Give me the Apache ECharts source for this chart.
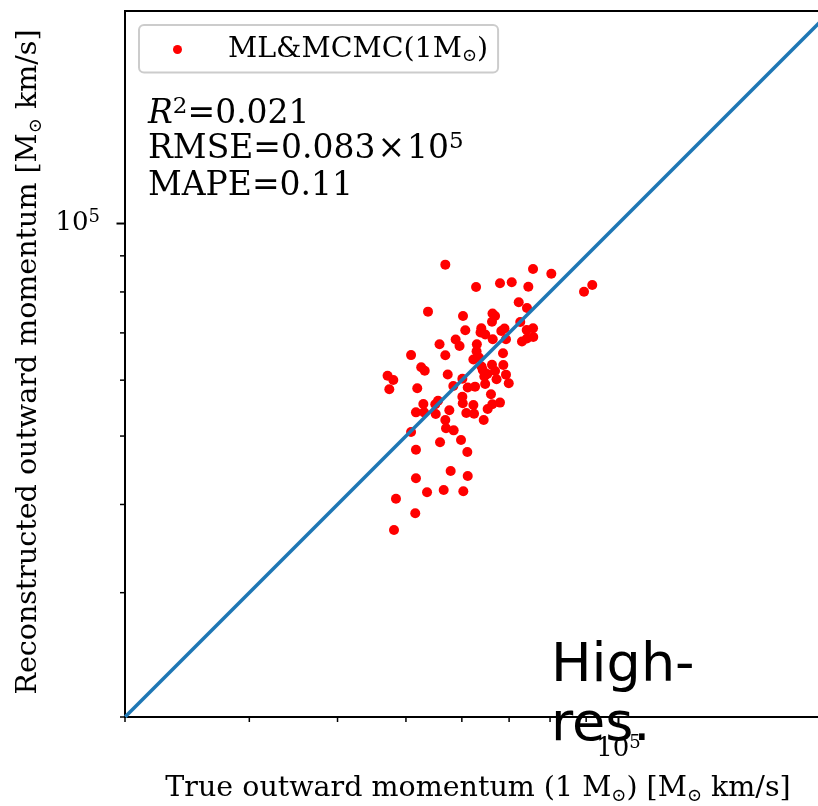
<!DOCTYPE html>
<html><head><meta charset="utf-8">
<script src="https://cdn.jsdelivr.net/npm/echarts@6/dist/echarts.min.js"></script>
<style>html,body{margin:0;padding:0;background:#fff}#c{width:818px;height:806px}</style>
</head><body><div id="c"></div>
<script>
// ---- data ----
const trueMomentum = [56850,62850,67950,70600,75680,80330,74530,91810,89370,53730,
  72230,74200,66310,66860,60230,66200,72590,60680,63930,63770,
  64760,68240,68950,66360,69290,74130,75680,75740,74200,73000,
  58800,59550,55790,63010,62950,56850,50840,62300,63450,68620,
  52550,53160,63980,66200,68690,64230,65190,66860,64560,57300,
  60100,67190,69290,69920,64740,47090,47980,47360,51880,58350,
  61160,62640,65980,60100,60180,62300,66270,67950,65270,52920,
  55520,55020,51660,53040,55100,57600,60880,62440,64430,56850,
  56980,58420,50840,55880,59840,51660,61080,57850,61160,51660,
  48400,53560,56550,60290,51540,48090];
const recoMomentum = [87450,81290,82280,82550,86220,84910,81370,81830,80070,75020,
  77340,75920,74580,73970,73970,72590,72520,70600,71060,70100,
  69650,70440,71010,68550,68550,70660,71050,69080,68740,68060,
  68500,67080,67450,67430,65930,65070,65110,64180,64590,65490,
  62570,61870,62740,63100,63040,62030,61230,61830,60720,61130,
  60280,60190,61090,59410,59260,60880,60030,58240,58430,58870,
  58590,58740,57290,56850,55640,55340,55470,55760,54620,55520,
  56110,55470,54020,54020,53730,54380,53900,53780,52690,52690,
  51280,50940,50670,49000,49370,47820,47470,44620,43900,43570,
  40760,41620,41940,41760,38870,36800];
const axisMin = 2e4;
const axisMax = 2e5;
const identityLine = [2e4, 2e5];
const majorTicks = [1e5];
const minorTicks = [2e4, 3e4, 4e4, 5e4, 6e4, 7e4, 8e4, 9e4];
const majorTickLabels = ['{b|10}{e|5}'];
const seriesName = 'ML&MCMC(1M☉)';
const r2Text = '0.021';
const rmseText = '0.083';
const mapeText = '0.11';
const xAxisTitle = '{t|True outward momentum (1 M}{s|⊙}{t|) [M}{s|⊙}{t| km/s]}';
const yAxisTitle = '{t|Reconstructed outward momentum [M}{s|⊙}{t| km/s]}';
const watermark = 'High-\nres.';

// ---- chart ----
const FONT = "'DejaVu Serif', serif";
const chart = echarts.init(document.getElementById('c'), null, {renderer: 'canvas'});
const scatterData = trueMomentum.map((x, i) => [x, recoMomentum[i]]);
const allTicks = minorTicks.concat(majorTicks);
const nMinor = minorTicks.length;

const tickRich = {
  b: {fontFamily: FONT, fontSize: 26, lineHeight: 30, fill: '#000', verticalAlign: 'middle'},
  e: {fontFamily: FONT, fontSize: 18, lineHeight: 16, fill: '#000', verticalAlign: 'top'}
};
const nameRich = {
  t: {fontFamily: FONT, fontSize: 28.5, lineHeight: 32, color: '#000', verticalAlign: 'middle'},
  s: {fontFamily: FONT, fontSize: 18, lineHeight: 20, color: '#000', verticalAlign: 'bottom'}
};
const statRich = {
  t: {fontFamily: FONT, fontSize: 33, lineHeight: 36, fill: '#000', verticalAlign: 'middle'},
  x: {fontFamily: FONT, fontSize: 33, lineHeight: 36, fill: '#000', verticalAlign: 'middle', padding: [0, 2, 0, 2]},
  i: {fontFamily: FONT, fontSize: 33, lineHeight: 36, fill: '#000', fontStyle: 'italic', verticalAlign: 'middle'},
  p: {fontFamily: FONT, fontSize: 23, lineHeight: 20, fill: '#000', verticalAlign: 'top'}
};

function tickSeries(dim) {
  return {
    type: 'custom', coordinateSystem: 'cartesian2d', clip: false, silent: true, z: 10,
    data: allTicks.map(v => dim === 'x' ? [v, axisMin] : [axisMin, v]),
    renderItem: function (params, api) {
      const i = params.dataIndex;
      const major = i >= nMinor;
      const p = api.coord([api.value(0), api.value(1)]);
      const len = major ? 8.5 : 5;
      const lw = major ? 2 : 1.5;
      const children = [];
      if (dim === 'x') {
        children.push({type: 'line', shape: {x1: p[0], y1: p[1], x2: p[0], y2: p[1] + len},
          style: {stroke: '#000', lineWidth: lw}});
        if (major) children.push({type: 'text', x: p[0], y: p[1] + 32,
          style: {text: majorTickLabels[i - nMinor], align: 'center', verticalAlign: 'middle', rich: tickRich}});
      } else {
        children.push({type: 'line', shape: {x1: p[0] - len, y1: p[1], x2: p[0], y2: p[1]},
          style: {stroke: '#000', lineWidth: lw}});
        if (major) children.push({type: 'text', x: p[0] - 25, y: p[1],
          style: {text: majorTickLabels[i - nMinor], align: 'right', verticalAlign: 'middle', rich: tickRich}});
      }
      return {type: 'group', children: children};
    }
  };
}

const option = {
  animation: false,
  backgroundColor: '#fff',
  grid: {left: 125, top: 11, width: 706, height: 706, outerBoundsMode: 'none', containLabel: false,
    show: true, borderColor: '#000', borderWidth: 2, backgroundColor: 'transparent'},
  xAxis: {
    type: 'log', logBase: 10, min: axisMin, max: axisMax,
    axisLine: {show: true, lineStyle: {color: '#000', width: 2}},
    axisTick: {show: false}, axisLabel: {show: false}, splitLine: {show: false},
    name: xAxisTitle, nameLocation: 'middle', nameGap: 56,
    nameTextStyle: {fontFamily: FONT, fontSize: 28.5, color: '#000', rich: nameRich}
  },
  yAxis: {
    type: 'log', logBase: 10, min: axisMin, max: axisMax,
    axisLine: {show: true, lineStyle: {color: '#000', width: 2}},
    axisTick: {show: false}, axisLabel: {show: false}, splitLine: {show: false},
    name: yAxisTitle, nameLocation: 'middle', nameGap: 80, nameRotate: 90,
    nameTextStyle: {fontFamily: FONT, fontSize: 28.5, color: '#000', rich: nameRich, padding: [0, 0, 0, 4]}
  },
  legend: {
    show: true, left: 139, top: 25, orient: 'vertical',
    padding: [10, 10, 7, 34],
    data: [{name: seriesName, icon: 'circle'}],
    itemWidth: 91, itemHeight: 9,
    borderColor: '#cccccc', borderWidth: 2, borderRadius: 5,
    backgroundColor: 'rgba(255,255,255,0.8)',
    formatter: function () { return '{t|ML&MCMC(1M}{s|⊙}{t|)}'; },
    textStyle: {fontFamily: FONT, fontSize: 28.5, color: '#000', rich: {
      t: {fontFamily: FONT, fontSize: 28.5, lineHeight: 32, color: '#000', verticalAlign: 'middle'},
      s: {fontFamily: FONT, fontSize: 18, lineHeight: 20, color: '#000', verticalAlign: 'bottom'}
    }}
  },
  graphic: [
    {type: 'text', left: 148, top: 96, z: 20,
      style: {text: '{i|R}{p|2}{t|=' + r2Text + '}', rich: statRich}},
    {type: 'text', left: 148, top: 131, z: 20,
      style: {text: '{t|RMSE=' + rmseText + '}{x|×}{t|10}{p|5}', rich: statRich}},
    {type: 'text', left: 148, top: 170, z: 20,
      style: {text: '{t|MAPE=' + mapeText + '}', rich: statRich}},
    {type: 'text', left: 551, top: 637, z: 30,
      style: {text: watermark, fill: '#000', fontFamily: "'DejaVu Sans', sans-serif", fontSize: 54, lineHeight: 59}}
  ],
  series: [
    {name: seriesName, type: 'scatter', data: scatterData, symbol: 'circle', symbolSize: 10,
      itemStyle: {color: '#ff0000', opacity: 1}, z: 2},
    {name: 'y=x', type: 'line', data: identityLine.map(v => [v, v]), showSymbol: false, symbol: 'none',
      lineStyle: {color: '#1f77b4', width: 3.5}, z: 3, silent: true},
    tickSeries('x'),
    tickSeries('y')
  ]
};
chart.setOption(option);
</script>
</body></html>
